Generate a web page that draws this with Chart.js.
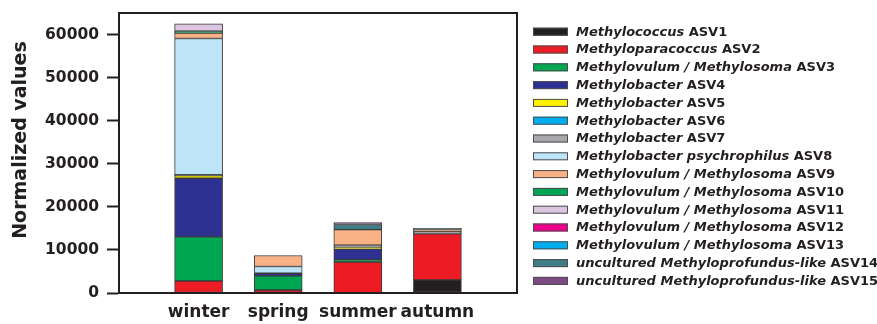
<!DOCTYPE html>
<html>
<head>
<meta charset="utf-8">
<script src="https://cdn.jsdelivr.net/npm/chart.js@4/dist/chart.umd.min.js"></script>
<style>
  html, body { margin: 0; padding: 0; background: #ffffff; }
  #wrap { width: 877px; height: 324px; position: relative; }
</style>
</head>
<body>
<div id="wrap"><canvas id="c" width="877" height="324"></canvas></div>
<script>
// Seasons on the x axis
const categories = ['winter', 'spring', 'summer', 'autumn'];

// Taxon names (italic part) and ASV identifiers (upright part)
const taxa = [
  'Methylococcus', 'Methyloparacoccus', 'Methylovulum / Methylosoma',
  'Methylobacter', 'Methylobacter', 'Methylobacter', 'Methylobacter',
  'Methylobacter psychrophilus', 'Methylovulum / Methylosoma',
  'Methylovulum / Methylosoma', 'Methylovulum / Methylosoma',
  'Methylovulum / Methylosoma', 'Methylovulum / Methylosoma',
  'uncultured Methyloprofundus-like', 'uncultured Methyloprofundus-like'
];
const asvIds = ['ASV1','ASV2','ASV3','ASV4','ASV5','ASV6','ASV7','ASV8',
                'ASV9','ASV10','ASV11','ASV12','ASV13','ASV14','ASV15'];

// Normalized values per season: winter, spring, summer, autumn
const ASV1  = [0,     0,    100,  3030];
const ASV2  = [2790,  700,  7080, 10710];
const ASV3  = [10250, 3260, 540,  0];
const ASV4  = [13600, 630,  2490, 0];
const ASV5  = [600,   0,    450,  0];
const ASV6  = [0,     0,    0,    0];
const ASV7  = [250,   0,    450,  450];
const ASV8  = [31580, 1560, 0,    0];
const ASV9  = [1240,  2560, 3590, 550];
const ASV10 = [470,   0,    0,    0];
const ASV11 = [1700,  0,    0,    0];
const ASV12 = [0,     0,    0,    0];
const ASV13 = [0,     0,    0,    0];
const ASV14 = [0,     0,    1200, 250];
const ASV15 = [0,     0,    470,  0];

// Y axis ticks
const yTicks = [0, 10000, 20000, 30000, 40000, 50000, 60000];

const seriesValues = [ASV1, ASV2, ASV3, ASV4, ASV5, ASV6, ASV7, ASV8,
                      ASV9, ASV10, ASV11, ASV12, ASV13, ASV14, ASV15];

const fills = ['#231f20', '#ed1c24', '#00a651', '#2e3192', '#fff200',
               '#00aeef', '#a7a9ac', '#bde4f7', '#f9b186', '#00a651',
               '#dcc5e1', '#ec008c', '#00aeef', '#3f7d87', '#7d4a86'];

const INK = '#231f20';
const FONT = "'DejaVu Sans'";

// Empty slots at both ends give the bars their spacing inside the frame
const xLabels = [''].concat(categories, ['']);

const datasets = seriesValues.map((vals, i) => ({
  label: taxa[i] + ' ' + asvIds[i],
  data: [null].concat(vals.map(v => (v > 0 ? v : null)), [null]),
  backgroundColor: fills[i],
  borderColor: '#3b3b3b',
  borderWidth: 1,
  borderSkipped: false,
  barThickness: 48,
  stack: 's'
}));

// Frame, y title and a legend with mixed italic / upright text
const decor = {
  id: 'decor',
  afterDraw(chart) {
    const ctx = chart.ctx;
    const a = chart.chartArea;
    ctx.save();
    ctx.strokeStyle = INK;
    ctx.lineWidth = 2;
    ctx.strokeRect(a.left, a.top, a.right - a.left, a.bottom - a.top);

    // y axis title
    ctx.fillStyle = INK;
    ctx.font = 'bold 19px ' + FONT;
    ctx.textAlign = 'center';
    ctx.textBaseline = 'middle';
    ctx.translate(21, 140);
    ctx.rotate(-Math.PI / 2);
    ctx.fillText('Normalized values', 0, 0);
    ctx.restore();

    // legend
    ctx.save();
    const x0 = 533, tx = 576, y0 = 31.7, step = 17.8;
    ctx.textBaseline = 'middle';
    ctx.textAlign = 'left';
    for (let i = 0; i < taxa.length; i++) {
      const y = y0 + i * step;
      ctx.fillStyle = fills[i];
      ctx.fillRect(x0, y - 4, 35, 8);
      ctx.strokeStyle = '#4d4d4d';
      ctx.lineWidth = 1;
      ctx.strokeRect(x0 + 0.5, y - 3.5, 34, 7);
      ctx.fillStyle = INK;
      ctx.font = 'italic bold 13px ' + FONT;
      ctx.fillText(taxa[i], tx, y + 0.5);
      const w = ctx.measureText(taxa[i] + ' ').width;
      ctx.font = 'bold 13px ' + FONT;
      ctx.fillText(asvIds[i], tx + w, y + 0.5);
    }
    ctx.restore();
  }
};

new Chart(document.getElementById('c'), {
  type: 'bar',
  data: { labels: xLabels, datasets },
  options: {
    responsive: false,
    animation: false,
    devicePixelRatio: 1,
    layout: { padding: { top: 13, right: 360, left: 0, bottom: 0 } },
    plugins: { legend: { display: false }, tooltip: { enabled: false } },
    scales: {
      x: {
        stacked: true,
        offset: false,
        grid: { display: false, drawTicks: false },
        border: { display: true, color: INK, width: 2 },
        ticks: {
          color: INK,
          font: { family: FONT, size: 17, weight: 'bold' },
          padding: 9,
          autoSkip: false,
          maxRotation: 0
        },
        afterFit(scale) {
          scale.height = 31;
          scale.paddingLeft = 0;
          scale.paddingRight = 0;
        }
      },
      y: {
        stacked: true,
        min: 0,
        max: 65000,
        afterBuildTicks(scale) { scale.ticks = yTicks.map(v => ({ value: v })); },
        grid: {
          drawOnChartArea: false,
          drawTicks: true,
          tickLength: 12,
          tickWidth: 2,
          tickColor: INK
        },
        border: { display: true, color: INK, width: 2 },
        ticks: {
          color: INK,
          font: { family: FONT, size: 15.5, weight: 'bold' },
          padding: 8,
          callback: (v) => String(v)
        },
        afterFit(scale) {
          scale.width = 119;
          scale.paddingTop = 0;
          scale.paddingBottom = 0;
        }
      }
    }
  },
  plugins: [decor]
});
</script>
</body>
</html>
